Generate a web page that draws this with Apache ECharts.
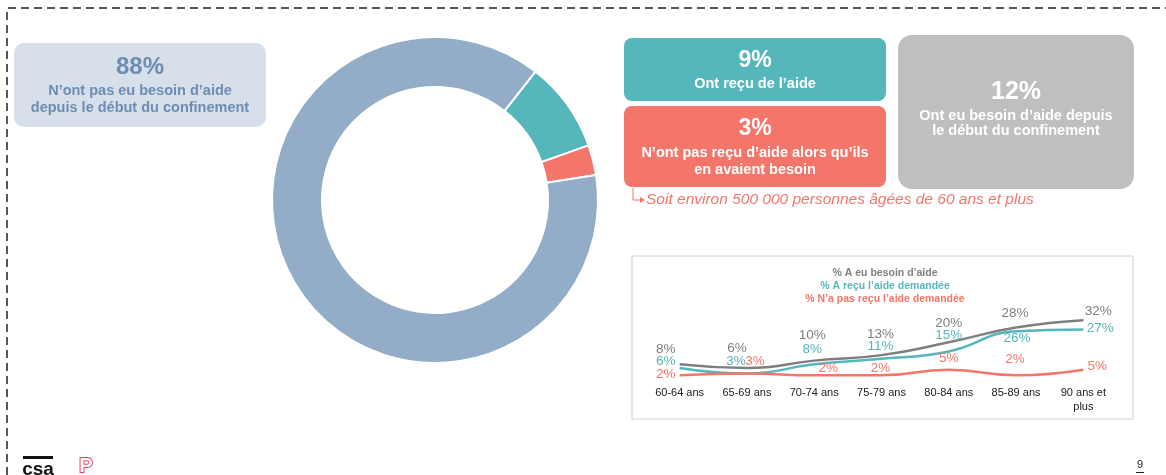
<!DOCTYPE html>
<html>
<head>
<meta charset="utf-8">
<script src="https://cdn.jsdelivr.net/npm/echarts@6/dist/echarts.min.js"></script>
<style>
  html, body { margin: 0; padding: 0; background: #fff; }
  #main { width: 1166px; height: 475px; }
</style>
</head>
<body>
<div id="main"></div>
<script>
// donut: who needed help since the start of the lockdown
const donutLabels = ['Ont reçu de l’aide', 'N’ont pas reçu d’aide alors qu’ils en avaient besoin', 'N’ont pas eu besoin d’aide depuis le début du confinement']
const donutValues = [9, 3, 88]

// line chart by age group
const ageGroups = ['60-64 ans', '65-69 ans', '70-74 ans', '75-79 ans', '80-84 ans', '85-89 ans', '90 ans et plus']
const besoinAide = [8, 6, 10, 13, 20, 28, 32]
const aideRecue = [6, 3, 8, 11, 15, 26, 27]
const aideNonRecue = [2, 3, 2, 2, 5, 2, 5]

const BLUE = '#93ACC8'
const TEAL = '#55B6BB'
const CORAL = '#F4766B'
const GREY = '#7F7F7F'
const FONT = '"Liberation Sans", Arial, sans-serif'

const chart = echarts.init(document.getElementById('main'))

// little helper for the coloured boxes
const box = (x, y, w, h, r, fill) => ({
  type: 'rect', z: 0,
  shape: { x: x, y: y, width: w, height: h, r: r },
  style: { fill: fill }
})
const txt = (x, y, text, size, color, extra) => ({
  type: 'text', z: 5, x: x, y: y,
  style: Object.assign({
    text: text, fill: color, font: 'bold ' + size + 'px ' + FONT,
    align: 'center', verticalAlign: 'middle'
  }, extra || {})
})

// per-point label nudges so labels sit like on the slide
const lblGrey = [[-14, -4], [-10, -9], [-2, -14], [-1, -10], [0, -8], [-1, -3], [15, 2]]
const lblTeal = [[-14, 4], [-11, -1], [-2, -4], [-1, -2], [0, -5], [1, 18], [17, 10]]
const lblCoral = [[-14, 10], [8, -1], [14, 4], [-1, 4], [0, -1], [-1, -5], [14, 7]]

const withLabels = (values, offs) => values.map((v, i) => ({
  value: v,
  label: { offset: offs[i] }
}))

const lineSeries = (name, values, color, offs) => ({
  name: name,
  type: 'line',
  smooth: true,
  symbol: 'circle',
  symbolSize: 0,
  silent: true,
  z: 3,
  lineStyle: { color: color, width: 2.5 },
  itemStyle: { color: color },
  data: withLabels(values, offs),
  label: {
    show: true, position: 'top', distance: 4,
    color: color, fontFamily: FONT, fontSize: 13.5,
    formatter: p => p.value + '%'
  }
})

chart.setOption({
  animation: false,
  textStyle: { fontFamily: FONT },
  title: {
    left: 880, top: 262, textAlign: 'center',
    text: '{a|% A eu besoin d’aide}\n{b|% A reçu l’aide demandée}\n{c|% N’a pas reçu l’aide demandée}',
    textStyle: {
      rich: {
        a: { color: GREY, fontWeight: 'bold', fontSize: 10.5, lineHeight: 13, fontFamily: FONT },
        b: { color: TEAL, fontWeight: 'bold', fontSize: 10.5, lineHeight: 13, fontFamily: FONT },
        c: { color: CORAL, fontWeight: 'bold', fontSize: 10.5, lineHeight: 13, fontFamily: FONT }
      }
    }
  },
  grid: { left: 646, width: 471, top: 300, bottom: 96 },
  xAxis: {
    type: 'category',
    data: ageGroups,
    axisLine: { show: false },
    axisTick: { show: false },
    axisLabel: {
      color: '#222', fontSize: 11, margin: 7, lineHeight: 14,
      formatter: v => v.replace('ans et ', 'ans et\n')
    }
  },
  yAxis: { type: 'value', min: 0, max: 43, show: false },
  series: [
    {
      type: 'pie',
      silent: true,
      center: [435, 200],
      radius: [113, 163],
      startAngle: 52,
      clockwise: true,
      label: { show: false },
      labelLine: { show: false },
      itemStyle: { borderColor: '#fff', borderWidth: 2 },
      data: donutLabels.map((n, i) => ({
        name: n, value: donutValues[i],
        itemStyle: { color: [TEAL, CORAL, BLUE][i] }
      }))
    },
    lineSeries('% A eu besoin d’aide', besoinAide, GREY, lblGrey),
    lineSeries('% A reçu l’aide demandée', aideRecue, TEAL, lblTeal),
    lineSeries('% N’a pas reçu l’aide demandée', aideNonRecue, CORAL, lblCoral)
  ],
  graphic: [
    // dashed frame
    {
      type: 'polyline', z: 0,
      shape: { points: [[7, 475], [7, 8], [1166, 8]] },
      style: { stroke: '#222', lineWidth: 1.5, lineDash: [8, 5], fill: null }
    },
    // 88% box
    box(14, 43, 252, 84, 10, '#D6DFEA'),
    txt(140, 67, donutValues[2] + '%', 24, '#6E8DB3'),
    txt(140, 91, 'N’ont pas eu besoin d’aide', 14.5, '#6E8DB3'),
    txt(140, 108, 'depuis le début du confinement', 14.5, '#6E8DB3'),
    // 9% box
    box(624, 38, 262, 63, 8, TEAL),
    txt(755, 61, donutValues[0] + '%', 23, '#fff'),
    txt(755, 84, donutLabels[0], 14.5, '#fff'),
    // 3% box
    box(624, 106, 262, 81, 8, CORAL),
    txt(755, 129, donutValues[1] + '%', 23, '#fff'),
    txt(755, 153, 'N’ont pas reçu d’aide alors qu’ils', 14.5, '#fff'),
    txt(755, 170, 'en avaient besoin', 14.5, '#fff'),
    // 12% box
    box(898, 35, 236, 154, 14, '#BFBFBF'),
    txt(1016, 92, (donutValues[0] + donutValues[1]) + '%', 25, '#fff'),
    txt(1016, 116, 'Ont eu besoin d’aide depuis', 14.5, '#fff'),
    txt(1016, 131, 'le début du confinement', 14.5, '#fff'),
    // note under the 3% box
    {
      type: 'polyline', z: 5,
      shape: { points: [[633, 188], [633, 200], [641, 200]] },
      style: { stroke: CORAL, lineWidth: 1, fill: null }
    },
    {
      type: 'polygon', z: 5,
      shape: { points: [[640, 197], [645, 200], [640, 203]] },
      style: { fill: CORAL }
    },
    txt(646, 200, 'Soit environ 500 000 personnes âgées de 60 ans et plus', 15.5, CORAL,
      { align: 'left', font: 'italic 15.5px ' + FONT }),
    // line chart frame
    {
      type: 'rect', z: -1,
      shape: { x: 632, y: 256, width: 501, height: 163 },
      style: { fill: '#fff', stroke: '#D0D0D0', lineWidth: 1 }
    },
    // footer logos and page number
    { type: 'rect', z: 5, shape: { x: 23, y: 456, width: 30, height: 3 }, style: { fill: '#111' } },
    txt(38, 470, 'csa', 19, '#111', { font: 'bold 19px ' + FONT }),
    txt(86, 466, 'P', 20, '#fff', { stroke: '#E0455A', lineWidth: 2, font: 'bold 20px ' + FONT }),
    txt(1140, 465, '9', 11, '#222', { font: '11px ' + FONT }),
    { type: 'rect', z: 5, shape: { x: 1136, y: 472, width: 8, height: 1 }, style: { fill: '#222' } }
  ]
})

window.addEventListener('resize', () => chart.resize())
</script>
</body>
</html>
